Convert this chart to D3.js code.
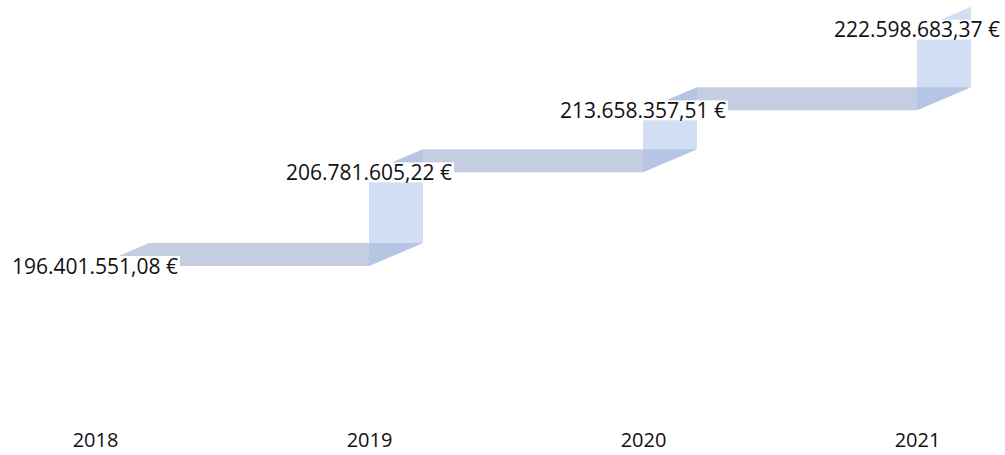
<!DOCTYPE html>
<html>
<head>
<meta charset="utf-8">
<script src="https://cdn.jsdelivr.net/npm/d3@7"></script>
<style>
  body { margin: 0; background: #fff; }
  svg { display: block; }
</style>
</head>
<body>
<div id="step-chart"></div>
<script>
// data
const years = ["2018", "2019", "2020", "2021"]
const totals = [196401551.08, 206781605.22, 213658357.51, 222598683.37]

function drawSteps() {

  // 1. dimensions
  let dimensions = {
    width: 1005,
    height: 455,
    margin: { top: 8, right: 88, bottom: 41, left: 95 },
    depthX: 54,   // fake 3d depth of the ribbon
    depthY: -23,
  }
  dimensions.boundedWidth = dimensions.width - dimensions.margin.left - dimensions.margin.right
  dimensions.boundedHeight = dimensions.height - dimensions.margin.top - dimensions.margin.bottom

  const wrapper = d3.select("#step-chart")
    .append("svg")
      .attr("width", dimensions.width)
      .attr("height", dimensions.height)

  const bounds = wrapper.append("g")
    .attr("transform", `translate(${dimensions.margin.left},${dimensions.margin.top})`)

  // 2. scales
  const xScale = d3.scalePoint()
    .domain(years)
    .range([0, 822])

  const yScale = d3.scaleLinear()
    .domain([180e6, 225e6])
    .range([406, 0])

  const fmt = d3.formatLocale({
    decimal: ",", thousands: ".", grouping: [3], currency: ["", " €"]
  }).format("$,.2f")

  const dx = dimensions.depthX
  const dy = dimensions.depthY
  const font = "'Open Sans', 'Liberation Sans', sans-serif"

  // 3. step pieces: flat part at the old level, then the wall up to the new level
  const flats = d3.range(years.length - 1).map(i => ({
    x0: xScale(years[i]), x1: xScale(years[i + 1]), y: yScale(totals[i])
  }))
  const walls = d3.range(years.length - 1).map(i => ({
    x: xScale(years[i + 1]), y0: yScale(totals[i]), y1: yScale(totals[i + 1])
  }))

  bounds.selectAll(".flat")
    .data(flats)
    .join("path")
      .attr("class", "flat")
      .attr("d", d => `M${d.x0},${d.y}L${d.x1},${d.y}L${d.x1 + dx},${d.y + dy}L${d.x0 + dx},${d.y + dy}Z`)
      .attr("fill", "rgb(158,173,203)")
      .attr("fill-opacity", 0.6)

  bounds.selectAll(".wall")
    .data(walls)
    .join("path")
      .attr("class", "wall")
      .attr("d", d => `M${d.x},${d.y0}L${d.x},${d.y1}L${d.x + dx},${d.y1 + dy}L${d.x + dx},${d.y0 + dy}Z`)
      .attr("fill", "rgb(165,189,231)")
      .attr("fill-opacity", 0.5)

  // 4. value labels, centred on the front corner, white box behind
  const labels = bounds.selectAll(".label")
    .data(years)
    .join("g")
      .attr("class", "label")
      .attr("transform", (d, i) => `translate(${xScale(d)},${yScale(totals[i])})`)

  labels.append("rect")
    .attr("fill", "white")

  labels.append("text")
    .attr("text-anchor", "middle")
    .attr("dy", "0.36em")
    .style("font-family", font)
    .style("font-size", "21px")
    .attr("fill", "#111")
    .text((d, i) => fmt(totals[i]))

  labels.each(function () {
    const box = d3.select(this).select("text").node().getBBox()
    d3.select(this).select("rect")
      .attr("x", box.x - 2)
      .attr("y", -10)
      .attr("width", box.width + 4)
      .attr("height", 20)
  })

  // 5. category axis, no line or ticks
  const xAxis = bounds.append("g")
    .attr("transform", `translate(0,${dimensions.boundedHeight})`)
    .call(d3.axisBottom(xScale).tickSize(0).tickPadding(0))

  xAxis.select(".domain").remove()
  xAxis.selectAll("text")
    .attr("dy", "0.36em")
    .attr("y", 26)
    .attr("fill", "#111")
    .style("font-family", font)
    .style("font-size", "20px")
}

drawSteps()
</script>
</body>
</html>
